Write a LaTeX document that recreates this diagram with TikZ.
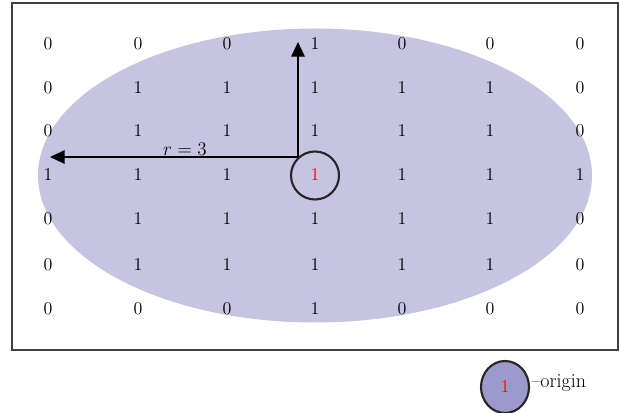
\documentclass[tikz,border=0pt]{standalone}
\usetikzlibrary{arrows.meta,shapes.geometric}
\definecolor{ellfill}{HTML}{C6C4E1}
\definecolor{legfill}{HTML}{9C99CC}
\begin{document}
\begin{tikzpicture}[x=0.75pt,y=-0.75pt,
  num/.style={font=\fontsize{13.5}{15}\selectfont,inner sep=0pt},
  arr/.style={line width=1.6pt,-{Triangle[length=11pt,width=10pt]}},
  ring/.style={draw=black!85,line width=1.6pt}]
\useasboundingbox (0,0) rectangle (620,413);
\draw[line width=0.9pt,draw=black!75] (12,3) rectangle (618,350);
\fill[ellfill] (315,175.5) ellipse [x radius=277,y radius=147];
\foreach \r/\row [count=\i] in {44/{0,0,0,1,0,0,0},88/{0,1,1,1,1,1,0},131/{0,1,1,1,1,1,0},175/{1,1,1,X,1,1,1},219/{0,1,1,1,1,1,0},265/{0,1,1,1,1,1,0},309/{0,0,0,1,0,0,0}}{
  \foreach \v [count=\j] in \row {
    \pgfmathsetmacro{\xx}{{48,138,227,315,402,490,580}[\j-1]}
    \if X\v\else\node[num] (c\i\j) at (\xx,\r) {\v};\fi
  }
}
\node[num,text=red] (c44) at (315,175) {1};
\node[ring,circle,minimum size=36pt,inner sep=0pt] (org) at (315,175.5) {};
\coordinate (corner) at (298,157);
\coordinate (lefttip) at (50,157);
\coordinate (toptip) at (298,42);
\draw[arr] (corner) -- (lefttip);
\draw[arr] (corner) -- (toptip);
\node[num] (rlab) at (185,149) {$r = 3$};
\node[ring,fill=legfill,ellipse,minimum width=36pt,minimum height=39pt,inner sep=0pt] (leg) at (505,387) {};
\node[num,text=red] at (leg) {1};
\node[num,anchor=west,font=\fontsize{15}{17}\selectfont] (legtxt) at (531,383) {--origin};
\end{tikzpicture}
\end{document}
